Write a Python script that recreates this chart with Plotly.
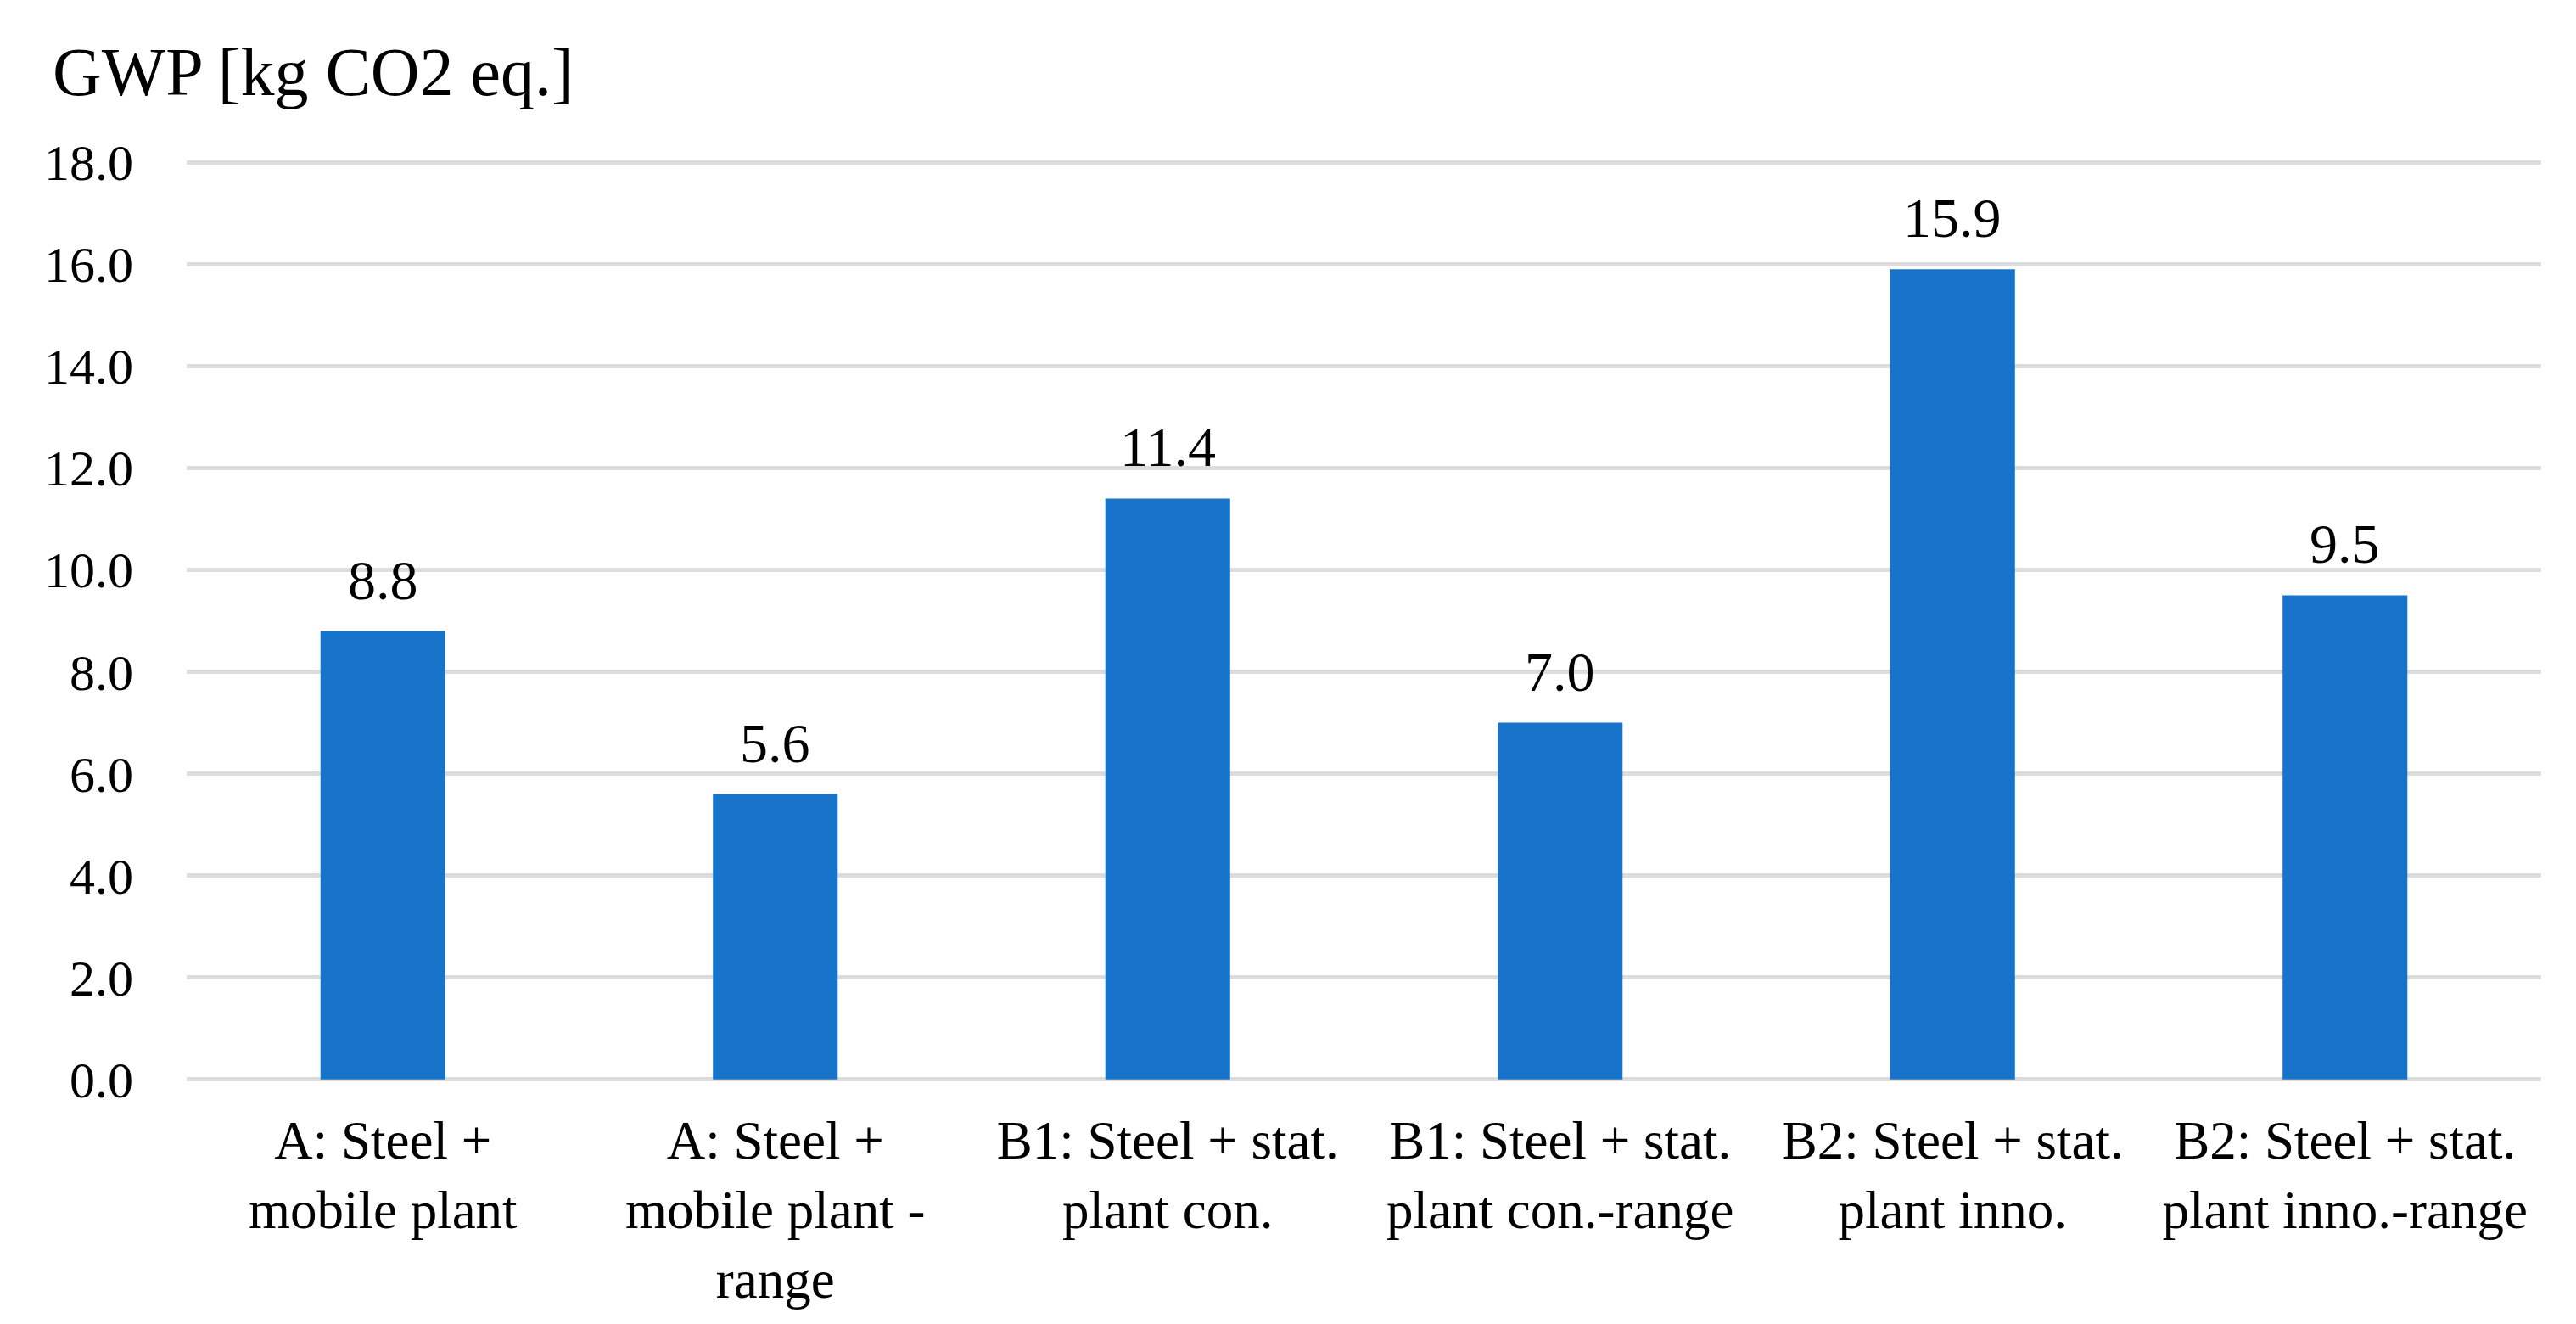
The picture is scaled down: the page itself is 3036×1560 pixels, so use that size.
import plotly.graph_objects as go

categories = [
    "A: Steel +<br>mobile plant",
    "A: Steel +<br>mobile plant -<br>range",
    "B1: Steel + stat.<br>plant con.",
    "B1: Steel + stat.<br>plant con.-range",
    "B2: Steel + stat.<br>plant inno.",
    "B2: Steel + stat.<br>plant inno.-range",
]
values = [8.8, 5.6, 11.4, 7.0, 15.9, 9.5]
y_ticks = [0, 2, 4, 6, 8, 10, 12, 14, 16, 18]
title_text = "GWP [kg CO2 eq.]"

FONT = "Liberation Serif, Times New Roman, serif"
BAR_COLOR = "#1874CB"
GRID_COLOR = "#dcdcdc"

fig = go.Figure()
fig.add_trace(go.Bar(
    x=categories,
    y=values,
    marker=dict(color=BAR_COLOR, line=dict(width=0)),
    showlegend=False,
))

for c, v in zip(categories, values):
    fig.add_annotation(
        x=c, y=v, xref="x", yref="y",
        text=f"{v:.1f}", showarrow=False,
        yanchor="bottom", yshift=22,
        font=dict(family=FONT, size=66, color="#000000"),
    )

fig.update_layout(
    width=3036, height=1560,
    paper_bgcolor="white", plot_bgcolor="white",
    margin=dict(l=212, r=49, t=182, b=295),
    bargap=0.682,
    font=dict(family=FONT, size=60, color="#000000"),
    title=dict(
        text=title_text, xref="container", yref="container",
        x=54 / 3036, xanchor="left", y=1 - 76 / 1560, yanchor="middle",
        font=dict(family=FONT, size=80, color="#000000"),
    ),
)
fig.update_yaxes(
    range=[-0.02, 18.02], tickvals=y_ticks, tickformat=".1f",
    showgrid=True, gridcolor=GRID_COLOR, gridwidth=5,
    zeroline=False, showline=False, ticks="",
    ticklabelstandoff=62,
    tickfont=dict(family=FONT, size=60, color="#000000"),
)
fig.update_xaxes(
    showgrid=False, showline=False, ticks="", zeroline=False,
    ticklabelstandoff=28,
    tickfont=dict(family=FONT, size=63, color="#000000"),
)

fig.write_html("out.html")
